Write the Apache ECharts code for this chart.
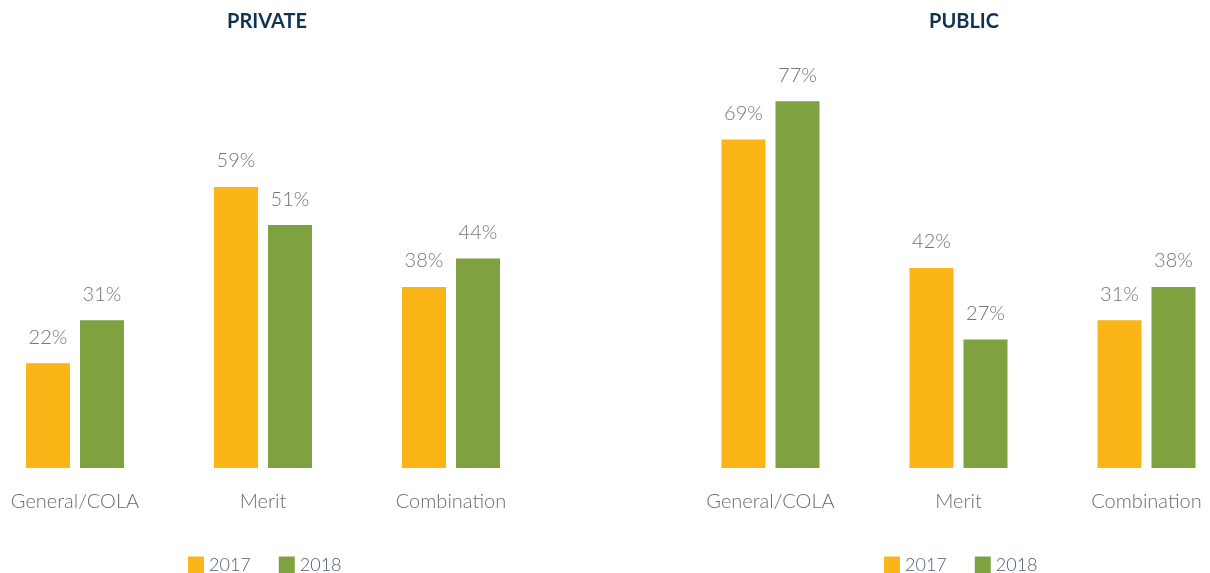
<!DOCTYPE html>
<html>
<head>
<meta charset="utf-8">
<script src="https://cdn.jsdelivr.net/npm/echarts@6/dist/echarts.min.js"></script>
<style>
  html, body { margin: 0; padding: 0; background: #ffffff; }
  #chart { width: 1210px; height: 573px; }
</style>
</head>
<body>
<div id="chart"></div>
<script>
// Pay increase types, share of organizations (%)
const categories = ['General/COLA', 'Merit', 'Combination'];
const years = ['2017', '2018'];
const private2017 = [22, 59, 38];
const private2018 = [31, 51, 44];
const public2017 = [69, 42, 31];
const public2018 = [77, 27, 38];
const panelTitles = ['PRIVATE', 'PUBLIC'];

const ORANGE = '#FBB516';
const GREEN = '#7EA23F';
const FONT = 'Lato';

const chart = echarts.init(document.getElementById('chart'));

const labelStyle = {
  show: true,
  position: 'top',
  distance: 16,
  formatter: '{c}%',
  color: '#757575',
  fontFamily: FONT,
  fontWeight: 300,
  fontSize: 20
};

function makeX(gridIndex) {
  return {
    type: 'category',
    gridIndex: gridIndex,
    data: categories,
    axisLine: { show: false },
    axisTick: { show: false },
    axisLabel: {
      margin: 24,
      color: '#6b6b6b',
      fontFamily: FONT,
      fontWeight: 300,
      fontSize: 20
    }
  };
}

function makeY(gridIndex) {
  return {
    type: 'value',
    gridIndex: gridIndex,
    min: 0,
    max: 80,
    show: false,
    splitLine: { show: false }
  };
}

function makeBar(name, data, idx, color) {
  return {
    name: name,
    type: 'bar',
    xAxisIndex: idx,
    yAxisIndex: idx,
    data: data,
    barWidth: 44,
    barGap: '22.7%',
    itemStyle: { color: color },
    label: labelStyle,
    emphasis: { disabled: true }
  };
}

function makeLegend(left) {
  return {
    data: years,
    left: left,
    top: 556,
    padding: 0,
    itemWidth: 16,
    itemHeight: 17,
    itemGap: 28,
    icon: 'rect',
    textStyle: {
      color: '#4f5d70',
      fontFamily: FONT,
      fontWeight: 300,
      fontSize: 18
    }
  };
}

chart.setOption({
  animation: false,
  backgroundColor: '#ffffff',
  title: [
    {
      text: panelTitles[0],
      left: 262,
      top: 7,
      textAlign: 'center',
      textStyle: { color: '#0f3350', fontFamily: FONT, fontWeight: 'bold', fontSize: 20 }
    },
    {
      text: panelTitles[1],
      left: 959,
      top: 7,
      textAlign: 'center',
      textStyle: { color: '#0f3350', fontFamily: FONT, fontWeight: 'bold', fontSize: 20 }
    }
  ],
  legend: [makeLegend(188), makeLegend(884)],
  grid: [
    { left: -19, width: 564, top: 87, bottom: 105, outerBoundsMode: 'none', containLabel: false },
    { left: 676.5, width: 564, top: 87, bottom: 105, outerBoundsMode: 'none', containLabel: false }
  ],
  xAxis: [makeX(0), makeX(1)],
  yAxis: [makeY(0), makeY(1)],
  series: [
    makeBar(years[0], private2017, 0, ORANGE),
    makeBar(years[1], private2018, 0, GREEN),
    makeBar(years[0], public2017, 1, ORANGE),
    makeBar(years[1], public2018, 1, GREEN)
  ]
});
</script>
</body>
</html>
